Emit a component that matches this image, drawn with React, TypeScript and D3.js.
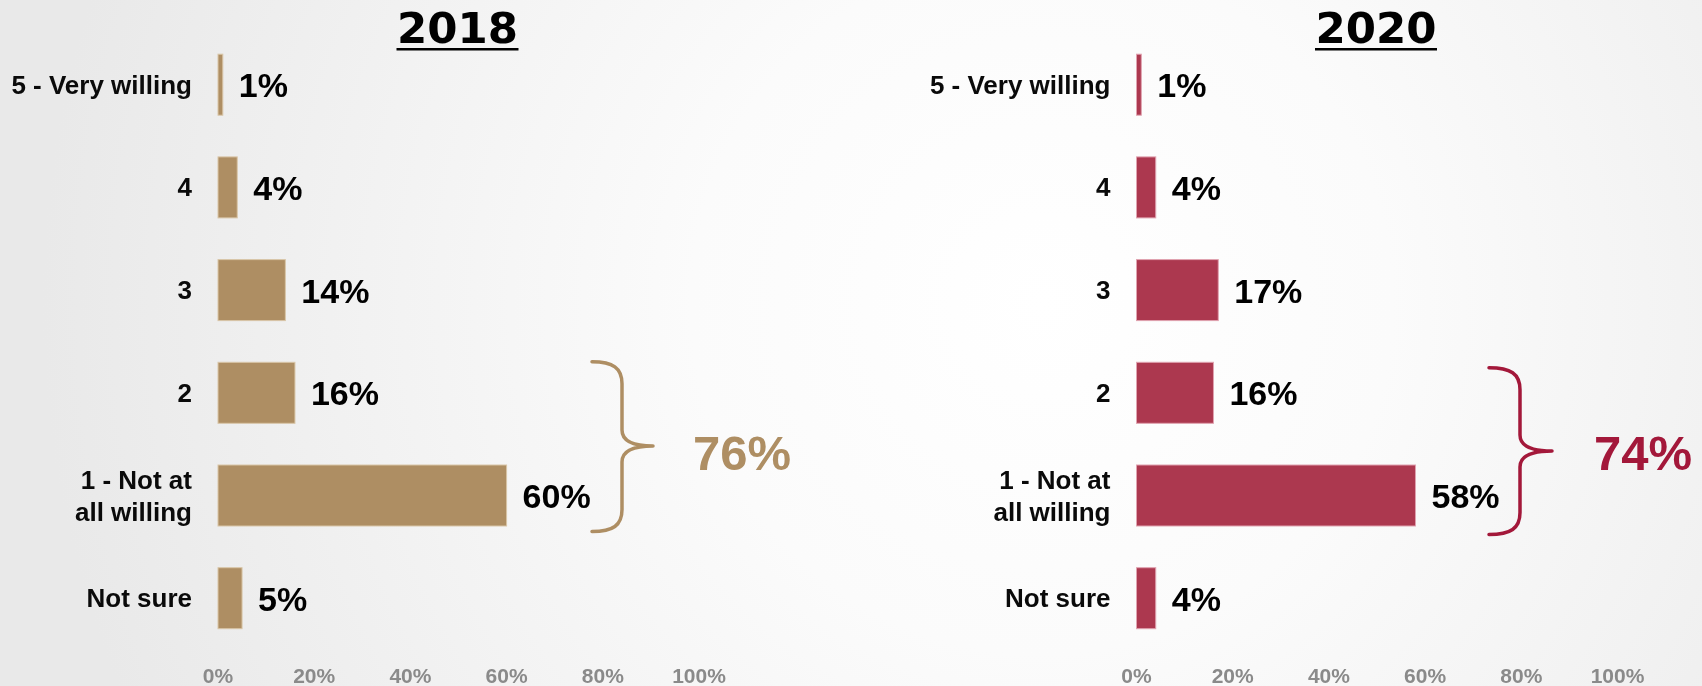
import React from "react";
import * as d3 from "d3";

const W = 1702;
const H = 686;

const categories = ["5 - Very willing", "4", "3", "2", "1 - Not at all willing", "Not sure"];
const categoryLines: string[][] = [["5 - Very willing"], ["4"], ["3"], ["2"], ["1 - Not at", "all willing"], ["Not sure"]];
const values2018 = [1, 4, 14, 16, 60, 5];
const values2020 = [1, 4, 17, 16, 58, 4];
const tickValues = [0, 20, 40, 60, 80, 100];
const titles = ["2018", "2020"];
const totals = ["76%", "74%"];

const panels = [
  {
    title: titles[0],
    values: values2018,
    total: totals[0],
    x0: 218,
    barColor: "#AE8E63",
    barStroke: "#D9C6A8",
    accent: "#AE8E63",
    brace: { tip: 592, vert: 622, point: 653, topOff: -0.5, botOff: 5.5, mid: 446 },
    totalX: 693,
  },
  {
    title: titles[1],
    values: values2020,
    total: totals[1],
    x0: 1136.5,
    barColor: "#AC384F",
    barStroke: "#E0A3B0",
    accent: "#A3183A",
    brace: { tip: 1489, vert: 1520, point: 1552, topOff: 5.5, botOff: 8.5, mid: 451 },
    totalX: 1594,
  },
];

const FONT = "'Liberation Sans', Arial, sans-serif";
const TITLE_FONT = "'DejaVu Sans', sans-serif";

function Panel({ p }: { p: (typeof panels)[number] }) {
  const x = d3.scaleLinear().domain([0, 100]).range([p.x0, p.x0 + 481]);
  const y = d3
    .scaleBand<string>()
    .domain(categories)
    .range([33.35, 33.35 + 6 * 102.7])
    .paddingInner(0.406)
    .paddingOuter(0.203);
  const bw = y.bandwidth();
  const b = p.brace;
  const y0 = (y("2") as number) + b.topOff;
  const y1 = (y("1 - Not at all willing") as number) + bw + b.botOff;
  const ym = b.mid;
  const dx = b.vert - b.tip;
  const bracePath = `M ${b.tip} ${y0} C ${b.tip + dx * 0.7} ${y0}, ${b.vert} ${y0 + 6}, ${b.vert} ${y0 + 22}
    L ${b.vert} ${ym - 16} C ${b.vert} ${ym - 5}, ${b.vert + 10} ${ym}, ${b.point} ${ym}
    C ${b.vert + 10} ${ym}, ${b.vert} ${ym + 5}, ${b.vert} ${ym + 16}
    L ${b.vert} ${y1 - 22} C ${b.vert} ${y1 - 6}, ${b.tip + dx * 0.7} ${y1}, ${b.tip} ${y1}`;
  const titleX = p.x0 + 239.5;

  return (
    <g>
      <text
        x={titleX}
        y={43}
        textAnchor="middle"
        fontFamily={TITLE_FONT}
        fontWeight="bold"
        fontSize={43.5}
        fill="#000"
      >
        {p.title}
      </text>
      <rect x={titleX - 61} y={48} width={122} height={2.5} fill="#000" />
      {categories.map((c, i) => {
        const cy = (y(c) as number) + bw / 2;
        const v = p.values[i];
        const lines = categoryLines[i];
        return (
          <g key={c}>
            <rect
              x={x(0)}
              y={y(c)}
              width={x(v) - x(0)}
              height={bw}
              fill={p.barColor}
              stroke={p.barStroke}
              strokeWidth={1}
            />
            <text
              x={x(v) + 16}
              y={cy + 12.5}
              fontFamily={FONT}
              fontWeight="bold"
              fontSize={34}
              fill="#000"
            >
              {v}%
            </text>
            {lines.length === 1 ? (
              <text
                x={x(0) - 26}
                y={cy + 9}
                textAnchor="end"
                fontFamily={FONT}
                fontWeight="bold"
                fontSize={26}
                fill="#0a0a0a"
              >
                {lines[0]}
              </text>
            ) : (
              lines.map((l, j) => (
                <text
                  key={l}
                  x={x(0) - 26}
                  y={cy - 7 + j * 32}
                  textAnchor="end"
                  fontFamily={FONT}
                  fontWeight="bold"
                  fontSize={26}
                  fill="#0a0a0a"
                >
                  {l}
                </text>
              ))
            )}
          </g>
        );
      })}
      {tickValues.map((t) => (
        <text
          key={t}
          x={x(t)}
          y={683}
          textAnchor="middle"
          fontFamily={FONT}
          fontWeight="bold"
          fontSize={21}
          fill="#8a8a8a"
        >
          {t}%
        </text>
      ))}
      <path d={bracePath} fill="none" stroke={p.accent} strokeWidth={3.5} strokeLinecap="round" strokeLinejoin="round" />
      <text x={p.totalX} y={470} fontFamily={FONT} fontWeight="bold" fontSize={49} fill={p.accent}>
        {p.total}
      </text>
    </g>
  );
}

export default function App() {
  return (
    <div style={{ position: "fixed", left: 0, top: 0, width: W, height: H }}>
      <svg width={W} height={H} viewBox={`0 0 ${W} ${H}`} style={{ display: "block" }}>
        <defs>
          <radialGradient id="bg" cx="1042" cy="304" r="1000" gradientUnits="userSpaceOnUse">
            <stop offset="0" stopColor="#ffffff" />
            <stop offset="0.35" stopColor="#fbfbfb" />
            <stop offset="1" stopColor="#e9e9e9" />
          </radialGradient>
        </defs>
        <rect x={0} y={0} width={W} height={H} fill="url(#bg)" />
        {panels.map((p) => (
          <Panel key={p.title} p={p} />
        ))}
      </svg>
    </div>
  );
}
